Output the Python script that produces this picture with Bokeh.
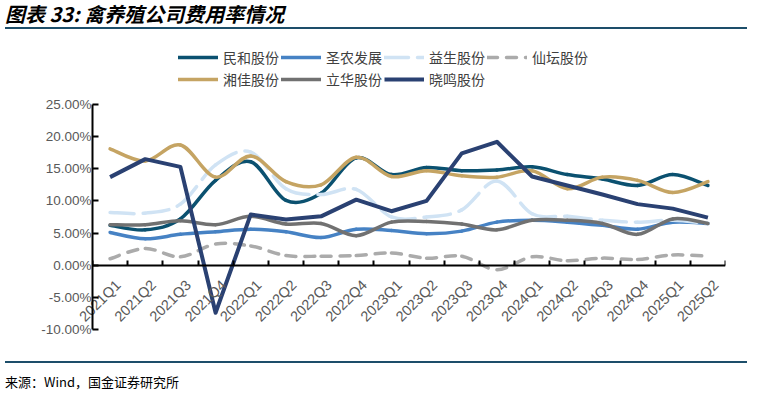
import math
from bokeh.plotting import figure
from bokeh.models import (LinearAxis, FixedTicker, Range1d, ColumnDataSource,
                          Legend, LegendItem, PrintfTickFormatter, Div)
from bokeh.layouts import column
from bokeh.embed import file_html
from bokeh.resources import INLINE

# ---------------- data ----------------
quarters = ["2021Q1", "2021Q2", "2021Q3", "2021Q4", "2022Q1", "2022Q2", "2022Q3", "2022Q4",
            "2023Q1", "2023Q2", "2023Q3", "2023Q4", "2024Q1", "2024Q2", "2024Q3", "2024Q4",
            "2025Q1", "2025Q2"]
minhe = [6.2, 5.5, 7.2, 13.2, 16.1, 10.1, 11.2, 16.7, 14.1, 15.2, 14.7, 14.8, 15.3, 14.1, 13.4, 12.4, 14.1, 12.4]
shengnong = [5.1, 4.1, 4.8, 5.2, 5.6, 5.2, 4.3, 5.6, 5.4, 4.9, 5.3, 6.7, 7.0, 6.7, 6.2, 5.6, 6.7, 6.5]
yisheng = [8.2, 8.1, 9.5, 15.6, 17.6, 11.9, 11.0, 11.8, 7.5, 7.5, 8.6, 13.1, 8.0, 7.6, 7.0, 6.7, 7.0, 6.5]
xiantan = [1.0, 2.6, 1.3, 3.3, 3.0, 1.5, 1.4, 1.5, 1.9, 1.1, 1.4, -0.7, 1.3, 0.7, 1.1, 0.9, 1.6, 1.4]
xiangjia = [18.1, 16.2, 18.7, 13.7, 17.0, 13.0, 12.5, 16.8, 13.8, 14.7, 13.9, 13.7, 14.7, 11.9, 13.7, 13.2, 11.3, 13.0]
lihua = [6.3, 6.3, 6.9, 6.3, 7.6, 6.4, 6.5, 4.6, 6.7, 6.8, 6.4, 5.5, 7.0, 7.0, 6.5, 4.8, 7.2, 6.5]
xiaoming = [13.7, 16.5, 15.3, -7.4, 7.9, 7.1, 7.6, 10.2, 8.4, 10.0, 17.4, 19.2, 13.8, 12.4, 11.0, 9.5, 8.8, 7.4]
y_ticks = [-10, -5, 0, 5, 10, 15, 20, 25]
y_min, y_max = -10, 25

series = [
    ("民和股份", minhe, "#0B5170", "solid", True),
    ("圣农发展", shengnong, "#4682C4", "solid", True),
    ("益生股份", yisheng, "#D0E3F4", "24 9", True),
    ("仙坛股份", xiantan, "#ABABAB", "10 9", True),
    ("湘佳股份", xiangjia, "#C5A463", "solid", True),
    ("立华股份", lihua, "#717171", "solid", True),
    ("晓鸣股份", xiaoming, "#2A4172", "solid", False),
]

n = len(quarters)
xs = list(range(n))
label_shift = 0.23   # shift of the category labels, in category widths
head_room = 9.02     # extra y-range above the axis (room for the legend inside the frame)

p = figure(width=742, height=322, x_range=Range1d(-0.5, n - 0.5),
           y_range=Range1d(y_min, y_max + head_room),
           x_axis_type=None, y_axis_type=None, output_backend="svg", toolbar_location=None,
           min_border_left=92, min_border_right=17, min_border_top=12, min_border_bottom=27)
p.extra_x_ranges = {"lab": Range1d(-0.5 - label_shift, n - 0.5 - label_shift)}
p.outline_line_color = None
p.background_fill_color = "white"
p.border_fill_color = "white"

# y axis
yaxis = LinearAxis(ticker=FixedTicker(ticks=y_ticks), formatter=PrintfTickFormatter(format="%.2f%%"),
                   bounds=(y_min, y_max),
                   axis_line_width=2, axis_line_color="black",
                   major_tick_in=6, major_tick_out=0, major_tick_line_width=2,
                   minor_tick_line_color=None, major_label_standoff=1,
                   major_label_text_font="Liberation Sans", major_label_text_font_size="13.5px",
                   major_label_text_color="#595959")
p.add_layout(yaxis, "left")

# zero line axis with boundary ticks
bounds = [i - 0.5 for i in range(n + 1)]
zaxis = LinearAxis(fixed_location=0, ticker=FixedTicker(ticks=[], minor_ticks=bounds),
                   axis_line_width=2, axis_line_color="black",
                   major_tick_line_color=None, minor_tick_in=5, minor_tick_out=0,
                   minor_tick_line_width=2, minor_tick_line_color="black",
                   major_label_text_font_size="0px")
p.add_layout(zaxis, "below")

# category labels
xaxis = LinearAxis(x_range_name="lab", ticker=FixedTicker(ticks=xs),
                   major_label_overrides={i: q for i, q in enumerate(quarters)},
                   axis_line_color=None, major_tick_line_color=None, minor_tick_line_color=None,
                   major_tick_in=0, major_tick_out=0, major_label_standoff=-47,
                   major_label_orientation=math.pi / 4,
                   major_label_text_font="Liberation Sans", major_label_text_font_size="14.5px",
                   major_label_text_color="#595959")
p.add_layout(xaxis, "below")

items = []
for name, vals, color, dash, smooth in series:
    if smooth:
        x0, y0, x1, y1, cx0, cy0, cx1, cy1 = [], [], [], [], [], [], [], []
        for k in range(n - 1):
            km = max(k - 1, 0)
            kp = min(k + 2, n - 1)
            x0.append(xs[k]); y0.append(vals[k])
            x1.append(xs[k + 1]); y1.append(vals[k + 1])
            cx0.append(xs[k] + (xs[k + 1] - xs[km]) / 6.0)
            cy0.append(vals[k] + (vals[k + 1] - vals[km]) / 6.0)
            cx1.append(xs[k + 1] - (xs[kp] - xs[k]) / 6.0)
            cy1.append(vals[k + 1] - (vals[kp] - vals[k]) / 6.0)
        src = ColumnDataSource(dict(x0=x0, y0=y0, x1=x1, y1=y1, cx0=cx0, cy0=cy0, cx1=cx1, cy1=cy1))
        r = p.bezier(x0="x0", y0="y0", x1="x1", y1="y1", cx0="cx0", cy0="cy0", cx1="cx1", cy1="cy1",
                     source=src, line_color=color, line_width=3.5, line_dash=dash, line_cap="round")
    else:
        r = p.line(x=xs, y=vals, line_color=color, line_width=4, line_join="round")
    items.append(LegendItem(label=name, renderers=[r]))

legend = Legend(items=items, location=(86, 240), orientation="horizontal", ncols=4,
                glyph_width=40, glyph_height=20, label_height=20, label_standoff=5, spacing=2,
                padding=0, margin=0, border_line_color=None, background_fill_alpha=0,
                label_text_font="Noto Sans CJK SC", label_text_font_size="14px",
                label_text_color="#404040")
p.add_layout(legend)

title_div = Div(text="图表 33: 禽养殖公司费用率情况", width=742, height=24,
                styles={"font-size": "20px", "font-weight": "bold", "font-style": "italic",
                        "line-height": "18px", "font-family": "Noto Sans CJK SC", "color": "#000",
                        "border-bottom": "2px solid #1D4E6A", "box-sizing": "border-box"})
footer_div = Div(text="来源：Wind，国金证券研究所", width=742, height=29,
                 styles={"font-size": "13px", "line-height": "13px", "font-family": "Noto Sans CJK SC",
                         "color": "#000", "border-top": "2px solid #1D4E6A", "padding-top": "12px",
                         "box-sizing": "border-box"})

layout = column(title_div, p, footer_div)
open("out.html", "w").write(file_html(layout, INLINE))
